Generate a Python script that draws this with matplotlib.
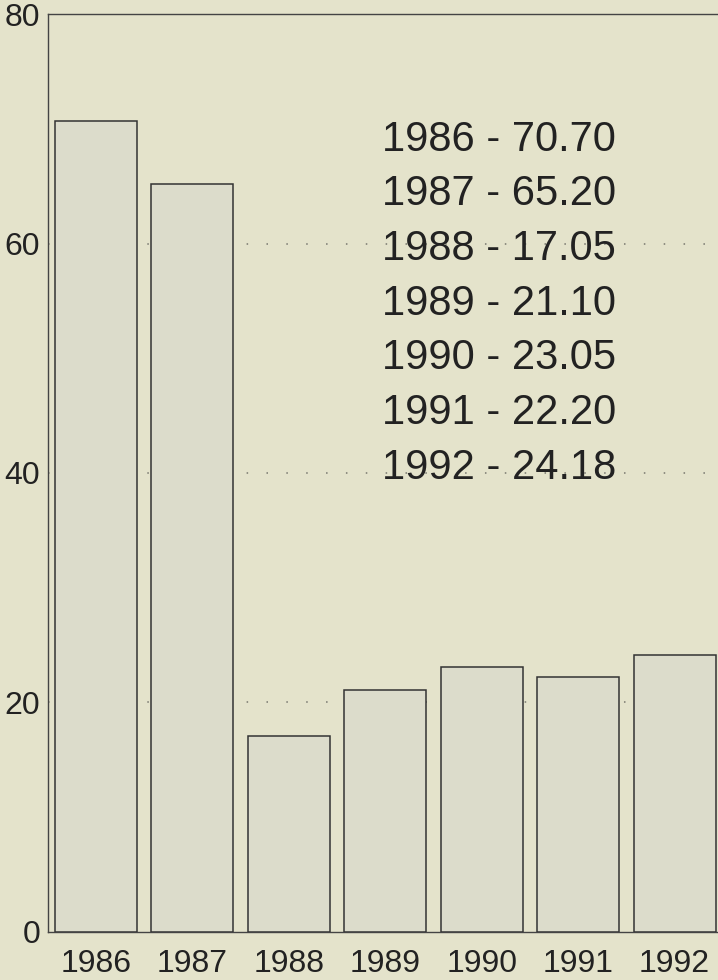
import matplotlib.pyplot as plt

years = ['1986', '1987', '1988', '1989', '1990', '1991', '1992']
values = [70.70, 65.20, 17.05, 21.10, 23.05, 22.20, 24.18]
yticks = [0, 20, 40, 60, 80]

plt.rcParams['font.family'] = ['Liberation Sans', 'DejaVu Sans']

bg = '#e4e3cb'
fig = plt.figure(figsize=(7.18, 9.80), dpi=100, facecolor=bg)
ax = fig.add_axes([0.0675, 0.049, 0.9325, 0.9367])
ax.set_facecolor(bg)

x = list(range(len(years)))
ax.bar(x, values, width=0.85, color='#dcdccb', edgecolor='#333333', linewidth=1.1, zorder=3)

ax.set_xlim(-0.493, 6.45)
ax.set_ylim(0, 80)
ax.set_yticks(yticks)
ax.set_yticklabels([str(t) for t in yticks])
ax.set_xticks(x)
ax.set_xticklabels(years)
ax.tick_params(axis='both', length=0, labelsize=23, colors='#222222')
ax.tick_params(axis='x', pad=12)
ax.tick_params(axis='y', pad=6)

# dotted gridlines behind the bars
for t in yticks[1:-1]:
    ax.axhline(t, color='#77776e', linestyle=(0, (1, 12)), linewidth=1.1, zorder=1)

for side in ['left', 'top', 'bottom']:
    ax.spines[side].set_color('#444444')
    ax.spines[side].set_linewidth(1.0)
ax.spines['right'].set_visible(False)

# value listing, one line per year
for i, (y, v) in enumerate(zip(years, values)):
    ax.text(0.4985, 0.8513 - i * 0.0596, f'{y} - {v:.2f}', transform=ax.transAxes,
            fontsize=30, color='#222222', va='baseline', ha='left', zorder=4)

fig.savefig('out.png', dpi=100, facecolor=bg)
